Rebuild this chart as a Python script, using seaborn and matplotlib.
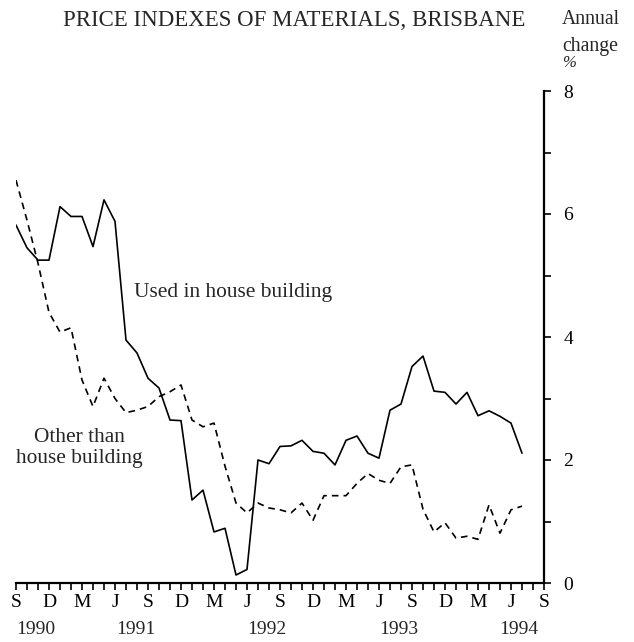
import matplotlib.pyplot as plt
import matplotlib.transforms as mtransforms
from matplotlib.ticker import MultipleLocator
import seaborn as sns
import pandas as pd

# months since September 1990
house = [5.82, 5.45, 5.25, 5.25, 6.12, 5.96, 5.96, 5.47, 6.23, 5.88,
         3.95, 3.74, 3.33, 3.17, 2.65, 2.64, 1.35, 1.51, 0.83, 0.89,
         0.13, 0.22, 2.00, 1.94, 2.22, 2.23, 2.32, 2.14, 2.11, 1.92,
         2.32, 2.39, 2.11, 2.03, 2.81, 2.91, 3.52, 3.69, 3.12, 3.10,
         2.91, 3.10, 2.72, 2.80, 2.71, 2.60, 2.11]
other = [6.55, 5.90, 5.20, 4.40, 4.08, 4.15, 3.30, 2.87, 3.33, 3.00,
         2.77, 2.81, 2.87, 3.03, 3.11, 3.22, 2.65, 2.54, 2.60, 1.90,
         1.30, 1.14, 1.30, 1.22, 1.19, 1.14, 1.30, 1.02, 1.42, 1.42,
         1.42, 1.62, 1.78, 1.67, 1.62, 1.89, 1.92, 1.20, 0.83, 0.98,
         0.73, 0.76, 0.71, 1.27, 0.81, 1.19, 1.25]
month_letters = ['S', 'D', 'M', 'J'] * 4 + ['S']
years = ['1990', '1991', '1992', '1993', '1994']
year_pos = [1.8, 10.9, 22.8, 34.8, 45.7]

df = pd.concat([
    pd.DataFrame({'month': range(len(house)), 'change': house, 'series': 'house'}),
    pd.DataFrame({'month': range(len(other)), 'change': other, 'series': 'other'}),
])

sns.set_style('ticks')
plt.rcParams['font.family'] = ['Liberation Serif', 'DejaVu Serif']

fig = plt.figure(figsize=(6.34, 6.42), dpi=100)
ax = fig.add_axes([16 / 634, 59 / 642, 528 / 634, 492 / 642])

sns.lineplot(data=df[df['series'] == 'house'], x='month', y='change',
             color='black', lw=1.2, ax=ax, legend=False)
sns.lineplot(data=df[df['series'] == 'other'], x='month', y='change',
             color='black', lw=1.2, ax=ax, legend=False)
ax.lines[1].set_dashes([4, 3])

ax.set_xlim(0, 48)
ax.set_ylim(0, 8)
ax.set_xlabel('')
ax.set_ylabel('')

for side in ['left', 'top']:
    ax.spines[side].set_visible(False)
for side in ['right', 'bottom']:
    ax.spines[side].set_linewidth(1.6)
    ax.spines[side].set_color('black')

ax.yaxis.tick_right()
ax.set_yticks([0, 2, 4, 6, 8])
ax.yaxis.set_minor_locator(MultipleLocator(1))
ax.set_xticks(range(0, 49, 3))
ax.set_xticklabels(month_letters)
ax.xaxis.set_minor_locator(MultipleLocator(1))
ax.tick_params(axis='both', which='both', direction='out', length=5,
               width=1.2, colors='black', labelsize=14)
ax.tick_params(axis='x', pad=3)
ax.tick_params(axis='y', pad=9)

trans = mtransforms.blended_transform_factory(ax.transData, fig.transFigure)
for yr, pos in zip(years, year_pos):
    ax.text(pos, 1 - 630 / 642, yr, transform=trans, ha='center', va='center',
            fontsize=14)

ax.text(10.7, 4.73, 'Used in house building', fontsize=15.4, ha='left', va='center')
ax.text(5.8, 2.2, 'Other than\nhouse building', fontsize=15.4, ha='center',
        va='center', linespacing=1.12)

fig.text(294 / 634, 1 - 20 / 642, 'PRICE INDEXES OF MATERIALS, BRISBANE',
         fontsize=16.5, ha='center', va='center')
fig.text(562 / 634, 1 - 20 / 642, 'Annual', fontsize=14.2, ha='left', va='center')
fig.text(562 / 634, 1 - 46 / 642, 'change', fontsize=14.2, ha='left', va='center')
fig.text(562 / 634, 1 - 63 / 642, '%', fontsize=12, style='italic',
         ha='left', va='center')

plt.savefig('out.png', dpi=100)
plt.close()
